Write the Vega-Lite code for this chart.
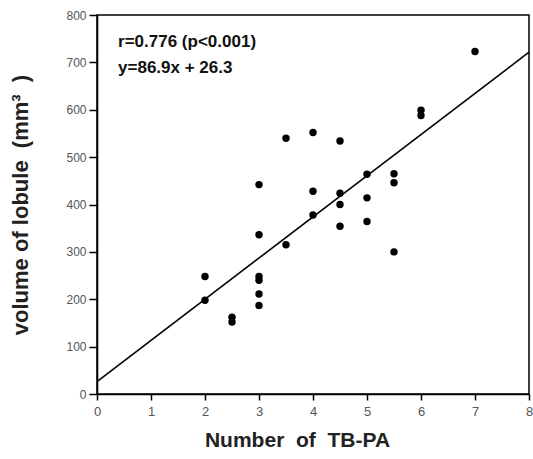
{
  "$schema": "https://vega.github.io/schema/vega-lite/v6.json",
  "autosize": "none",
  "width": 432,
  "height": 379,
  "padding": {"left": 97, "top": 15, "right": 4, "bottom": 65},
  "background": "white",
  "config": {
    "view": {"stroke": "black", "strokeWidth": 1.5},
    "font": "Liberation Sans"
  },
  "datasets": {
    "points": [
      {"x": 2, "y": 248}, {"x": 2, "y": 198},
      {"x": 2.5, "y": 162}, {"x": 2.5, "y": 152},
      {"x": 3, "y": 442}, {"x": 3, "y": 336}, {"x": 3, "y": 248}, {"x": 3, "y": 240}, {"x": 3, "y": 211}, {"x": 3, "y": 187},
      {"x": 3.5, "y": 540}, {"x": 3.5, "y": 315},
      {"x": 4, "y": 552}, {"x": 4, "y": 428}, {"x": 4, "y": 378},
      {"x": 4.5, "y": 534}, {"x": 4.5, "y": 424}, {"x": 4.5, "y": 400}, {"x": 4.5, "y": 354},
      {"x": 5, "y": 464}, {"x": 5, "y": 414}, {"x": 5, "y": 364},
      {"x": 5.5, "y": 465}, {"x": 5.5, "y": 446}, {"x": 5.5, "y": 300},
      {"x": 6, "y": 599}, {"x": 6, "y": 588},
      {"x": 7, "y": 723}
    ],
    "fit": [{"x": 0, "y": 26.3, "x2": 8, "y2": 721.5}],
    "notes": [
      {"x": 0.39, "y": 743, "t": "r=0.776 (p<0.001)"},
      {"x": 0.39, "y": 688, "t": "y=86.9x + 26.3"}
    ]
  },
  "layer": [
    {
      "data": {"name": "fit"},
      "mark": {"type": "rule", "color": "black", "strokeWidth": 1.6},
      "encoding": {
        "x": {"field": "x", "type": "quantitative", "scale": {"domain": [0, 8], "nice": false}},
        "y": {"field": "y", "type": "quantitative", "scale": {"domain": [0, 800], "nice": false}},
        "x2": {"field": "x2"},
        "y2": {"field": "y2"}
      }
    },
    {
      "data": {"name": "points"},
      "mark": {"type": "circle", "color": "black", "opacity": 1, "size": 55},
      "encoding": {
        "x": {
          "field": "x", "type": "quantitative",
          "scale": {"domain": [0, 8], "nice": false},
          "axis": {
            "values": [0, 0.5, 1, 1.5, 2, 2.5, 3, 3.5, 4, 4.5, 5, 5.5, 6, 6.5, 7, 7.5, 8],
            "labelExpr": "datum.value % 1 === 0 ? datum.label : ''",
            "title": "Number\u00a0\u00a0of\u00a0\u00a0TB-PA",
            "titleFontSize": 21, "titleFontWeight": "bold", "titleColor": "#222",
            "titlePadding": 11,
            "titleX": 200,
            "grid": false,
            "domainColor": "black", "domainWidth": 1.6,
            "tickColor": "black", "tickWidth": 1.5,
            "tickSize": {"condition": {"test": "datum.value % 1 === 0", "value": 6}, "value": 3},
            "labelFontSize": 13, "labelColor": "#555", "labelPadding": 5,
            "labelFlush": false
          }
        },
        "y": {
          "field": "y", "type": "quantitative",
          "scale": {"domain": [0, 800], "nice": false},
          "axis": {
            "values": [0, 50, 100, 150, 200, 250, 300, 350, 400, 450, 500, 550, 600, 650, 700, 750, 800],
            "labelExpr": "datum.value % 100 === 0 ? datum.label : ''",
            "title": "volume\u00a0of\u00a0lobule\u00a0\u00a0(mm³\u00a0\u00a0)",
            "titleFontSize": 22, "titleFontWeight": "bold", "titleColor": "#222",
            "titlePadding": 33,
            "grid": false,
            "domainColor": "black", "domainWidth": 1.6,
            "tickColor": "black", "tickWidth": 1.5,
            "tickSize": {"condition": {"test": "datum.value % 100 === 0", "value": 8}, "value": 4},
            "labelFontSize": 12, "labelColor": "#555", "labelPadding": 3,
            "labelFlush": false
          }
        }
      }
    },
    {
      "data": {"name": "notes"},
      "mark": {"type": "text", "align": "left", "baseline": "middle", "fontSize": 17, "fontWeight": "bold", "color": "#111"},
      "encoding": {
        "x": {"field": "x", "type": "quantitative"},
        "y": {"field": "y", "type": "quantitative"},
        "text": {"field": "t"}
      }
    }
  ]
}
